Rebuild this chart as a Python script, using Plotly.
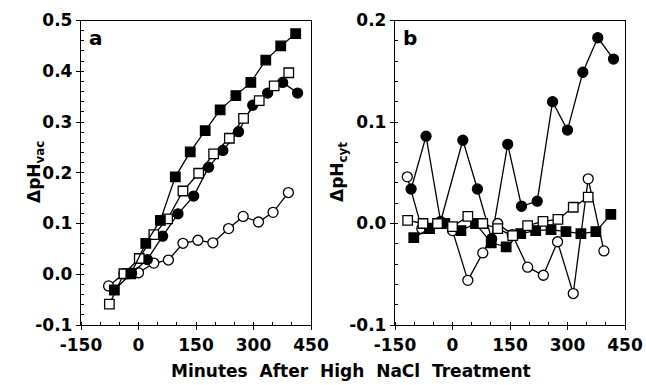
import plotly.graph_objects as go

# ---------------- Panel a : delta pH vac ----------------
a_fsq_x = [-63, -20, 19, 57, 96, 135, 174, 213, 254, 293, 332, 371, 410]
a_fsq_y = [-0.031, 0.001, 0.061, 0.106, 0.192, 0.241, 0.283, 0.324, 0.352, 0.378, 0.422, 0.450, 0.474]

a_osq_x = [-76, -38, 2, 40, 76, 116, 157, 196, 237, 274, 315, 354, 392]
a_osq_y = [-0.059, 0.001, 0.031, 0.078, 0.109, 0.164, 0.199, 0.237, 0.268, 0.307, 0.342, 0.371, 0.397]

a_fci_x = [-18, 23, 63, 103, 144, 183, 220, 261, 298, 337, 376, 415]
a_fci_y = [0.002, 0.029, 0.075, 0.119, 0.154, 0.211, 0.244, 0.281, 0.333, 0.357, 0.378, 0.357]

a_oci_x = [-78, -38, 0, 40, 78, 116, 155, 194, 235, 273, 313, 351, 391]
a_oci_y = [-0.023, 0.001, 0.003, 0.022, 0.028, 0.061, 0.067, 0.062, 0.090, 0.114, 0.103, 0.122, 0.161]

# ---------------- Panel b : delta pH cyt ----------------
b_fci_x = [-108, -69, -31, 27, 65, 102, 144, 180, 221, 261, 300, 340, 379, 420]
b_fci_y = [0.034, 0.086, 0.002, 0.082, 0.034, -0.015, 0.078, 0.017, 0.022, 0.120, 0.092, 0.149, 0.183, 0.162]

b_osq_x = [-117, -77, -39, 0, 40, 79, 118, 157, 196, 236, 275, 315, 354]
b_osq_y = [0.003, 0.000, 0.000, -0.003, 0.007, 0.000, -0.005, -0.012, -0.002, 0.002, 0.004, 0.016, 0.026]

b_fsq_x = [-101, -60, -20, 22, 60, 101, 140, 178, 217, 257, 296, 335, 374, 413]
b_fsq_y = [-0.014, -0.005, 0.000, -0.007, 0.000, -0.019, -0.023, -0.010, -0.007, -0.006, -0.008, -0.010, -0.008, 0.009]

b_oci_x = [-118, -80, -39, 0, 40, 79, 118, 156, 196, 237, 274, 315, 354, 395]
b_oci_y = [0.046, -0.005, 0.000, -0.007, -0.056, -0.029, 0.000, -0.011, -0.043, -0.051, -0.018, -0.069, 0.044, -0.027]

x_ticks = [-150, 0, 150, 300, 450]
a_yticks = [-0.1, 0.0, 0.1, 0.2, 0.3, 0.4, 0.5]
b_yticks = [-0.1, 0.0, 0.1, 0.2]

FONT = "DejaVu Sans"
W, H = 646, 385

fig = go.Figure()


def add(x, y, symbol, filled, xa, ya, size):
    fig.add_trace(go.Scatter(
        x=x, y=y, mode="lines+markers", xaxis=xa, yaxis=ya,
        line=dict(color="black", width=1.3),
        marker=dict(symbol=symbol, size=size,
                    color="black" if filled else "white",
                    line=dict(color="black", width=1.3)),
        showlegend=False, hoverinfo="skip"))


add(a_oci_x, a_oci_y, "circle", False, "x", "y", 10)
add(a_fci_x, a_fci_y, "circle", True, "x", "y", 10)
add(a_osq_x, a_osq_y, "square", False, "x", "y", 9.5)
add(a_fsq_x, a_fsq_y, "square", True, "x", "y", 9.5)

add(b_fci_x, b_fci_y, "circle", True, "x2", "y2", 10)
add(b_oci_x, b_oci_y, "circle", False, "x2", "y2", 10)
add(b_fsq_x, b_fsq_y, "square", True, "x2", "y2", 9.5)
add(b_osq_x, b_osq_y, "square", False, "x2", "y2", 9.5)

tickfont = dict(family=FONT, size=17, color="black", weight="bold")

xcommon = dict(range=[-150, 450], tickvals=x_ticks, ticktext=[str(v) for v in x_ticks],
               showgrid=False, zeroline=False, showline=True, linecolor="black",
               linewidth=1.3, mirror=True, ticks="outside", ticklen=4, tickwidth=1.2,
               tickcolor="black", tickfont=tickfont, automargin=False,
               minor=dict(dtick=50, tick0=0, ticks="inside", ticklen=3, tickwidth=1,
                          tickcolor="black", showgrid=False))


def ycommon(rng, ticks):
    return dict(range=rng, tickvals=ticks, ticktext=["%.1f" % v for v in ticks],
                showgrid=False, zeroline=False, showline=True, linecolor="black",
                linewidth=1.3, mirror=True, ticks="outside", ticklen=4, tickwidth=1.2,
                tickcolor="black", tickfont=tickfont, automargin=False,
                minor=dict(dtick=0.02, tick0=0, ticks="inside", ticklen=3, tickwidth=1,
                           tickcolor="black", showgrid=False))


ydom = [60 / H, 364.5 / H]
fig.update_layout(
    width=W, height=H,
    margin=dict(l=0, r=0, t=0, b=0),
    paper_bgcolor="white", plot_bgcolor="white",
    xaxis=dict(domain=[81 / W, 311 / W], anchor="y", **xcommon),
    yaxis=dict(domain=ydom, anchor="x", **ycommon([-0.1, 0.5], a_yticks)),
    xaxis2=dict(domain=[395 / W, 625 / W], anchor="y2", **xcommon),
    yaxis2=dict(domain=ydom, anchor="x2", **ycommon([-0.1, 0.2], b_yticks)),
    annotations=[
        dict(text="a", xref="x domain", yref="y domain", x=0.025, y=0.99,
             xanchor="left", yanchor="top", showarrow=False,
             font=dict(family=FONT, size=20, color="black", weight="bold")),
        dict(text="b", xref="x2 domain", yref="y2 domain", x=0.025, y=0.99,
             xanchor="left", yanchor="top", showarrow=False,
             font=dict(family=FONT, size=20, color="black", weight="bold")),
        dict(text="ΔpH<sub>vac</sub>", xref="paper", yref="paper",
             x=35 / W, y=(H - 172) / H, textangle=-90, showarrow=False,
             xanchor="center", yanchor="middle",
             font=dict(family=FONT, size=17, color="black", weight="bold")),
        dict(text="ΔpH<sub>cyt</sub>", xref="paper", yref="paper",
             x=338 / W, y=(H - 172) / H, textangle=-90, showarrow=False,
             xanchor="center", yanchor="middle",
             font=dict(family=FONT, size=17, color="black", weight="bold")),
        dict(text="Minutes  After  High  NaCl  Treatment", xref="paper", yref="paper",
             x=351 / W, y=(H - 371) / H, showarrow=False,
             xanchor="center", yanchor="middle",
             font=dict(family=FONT, size=17, color="black", weight="bold")),
    ],
)

fig.write_html("out.html")
